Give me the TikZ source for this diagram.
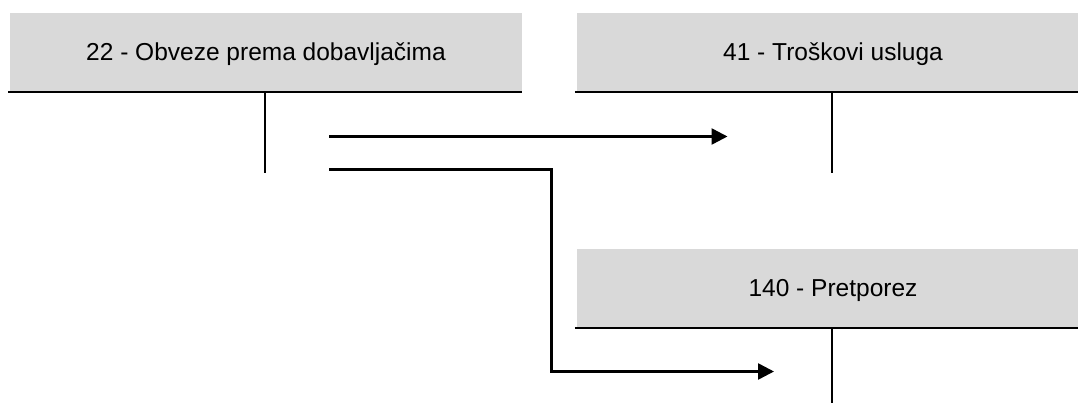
\documentclass[tikz,border=0pt]{standalone}
\usepackage{fontspec}
\setmainfont{Liberation Sans}
\usetikzlibrary{arrows.meta}
\definecolor{boxgray}{RGB}{217,217,217}
\tikzset{
  acct/.style={fill=boxgray, draw=none, inner sep=0pt, minimum width=512pt, minimum height=79pt,
    text height=17.5pt, text depth=2pt, font=\fontsize{24.5}{28}\selectfont},
  tline/.style={line width=2.4pt, black},
  flow/.style={line width=2.5pt, black, line join=miter, -{Triangle[length=16pt,width=16pt]}}
}
\begin{document}
\begin{tikzpicture}[x=1pt,y=-1pt]
\clip (0,0) rectangle (1078,403);
\fill[white] (0,0) rectangle (1078,403);
% accounts
\node[acct] (b1) at (266,52.5) {22 - Obveze prema dobavljačima};
\node[acct] (b2) at (833,52.5) {41 - Troškovi usluga};
\node[acct] (b3) at (833,288.5) {140 - Pretporez};
% T lines
\coordinate (v1) at (265,173);
\coordinate (v2) at (832,173);
\coordinate (v3) at (832,410);
\draw[tline] ([xshift=-1.5pt]b1.south west) -- (b1.south east);
\draw[tline] ([xshift=-2pt]b2.south west) -- (b2.south east);
\draw[tline] ([xshift=-2pt]b3.south west) -- (b3.south east);
\draw[tline] (v1 |- b1.south) -- (v1);
\draw[tline] (v2 |- b2.south) -- (v2);
\draw[tline] (v3 |- b3.south) -- (v3);
% flows
\coordinate (a1s) at (329,136.5);
\coordinate (a1e) at (727.5,136.5);
\coordinate (a2s) at (329,169.5);
\coordinate (a2k) at (551.5,371.5);
\coordinate (a2e) at (774,371.5);
\draw[flow] (a1s) -- (a1e);
\draw[flow] (a2s) -| (a2k) -- (a2e);
\end{tikzpicture}
\end{document}
